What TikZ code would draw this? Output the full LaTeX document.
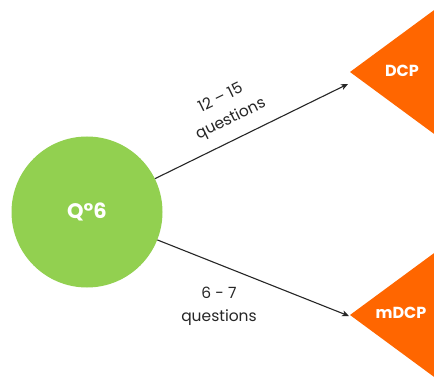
\documentclass[tikz,border=0pt]{standalone}
\usepackage{fontspec}
\setmainfont{Poppins}
\usetikzlibrary{arrows.meta}
\definecolor{qgreen}{HTML}{92D050}
\definecolor{dorange}{HTML}{FF6600}
\tikzset{
  conn/.style={draw=black!85, line width=1.1pt, -{Stealth[length=7pt,width=6pt,inset=2pt]}},
  lbl/.style={text=black!85, font=\fontsize{15.5}{23}\selectfont, align=center, inner sep=0pt},
  tri/.style={fill=dorange, draw=none},
  tlbl/.style={text=white, font=\bfseries\fontsize{16}{18}\selectfont, inner sep=0pt}
}
\begin{document}
\begin{tikzpicture}[x=1pt,y=1pt]
\useasboundingbox (0,0) rectangle (434,378);
\fill[white] (0,0) rectangle (434,378);
\begin{scope}
\clip (0,0) rectangle (434,378);
\fill[tri] (350,306) -- (460,387) -- (460,225) -- cycle;
\fill[tri] (350,63) -- (460,144) -- (460,-18) -- cycle;
\end{scope}
\node[circle, fill=qgreen, minimum size=151pt, inner sep=0pt] (q) at (87,166) {};
\node[text=white, font=\bfseries\fontsize{21}{24}\selectfont] (qt) at (87,166) {Q°6};
\node[tlbl] (dcp) at (402,307) {DCP};
\node[tlbl] (mdcp) at (401,65) {mDCP};
\coordinate (dcpin) at (348,294);
\coordinate (mdcpin) at (349,62);
\draw[conn] (q) -- (dcpin);
\draw[conn] (q) -- (mdcpin);
\node[lbl, rotate=26] (l1) at (226,269) {12 – 15\\questions};
\node[lbl] (l2) at (219,72) {6 - 7\\questions};
\end{tikzpicture}
\end{document}
